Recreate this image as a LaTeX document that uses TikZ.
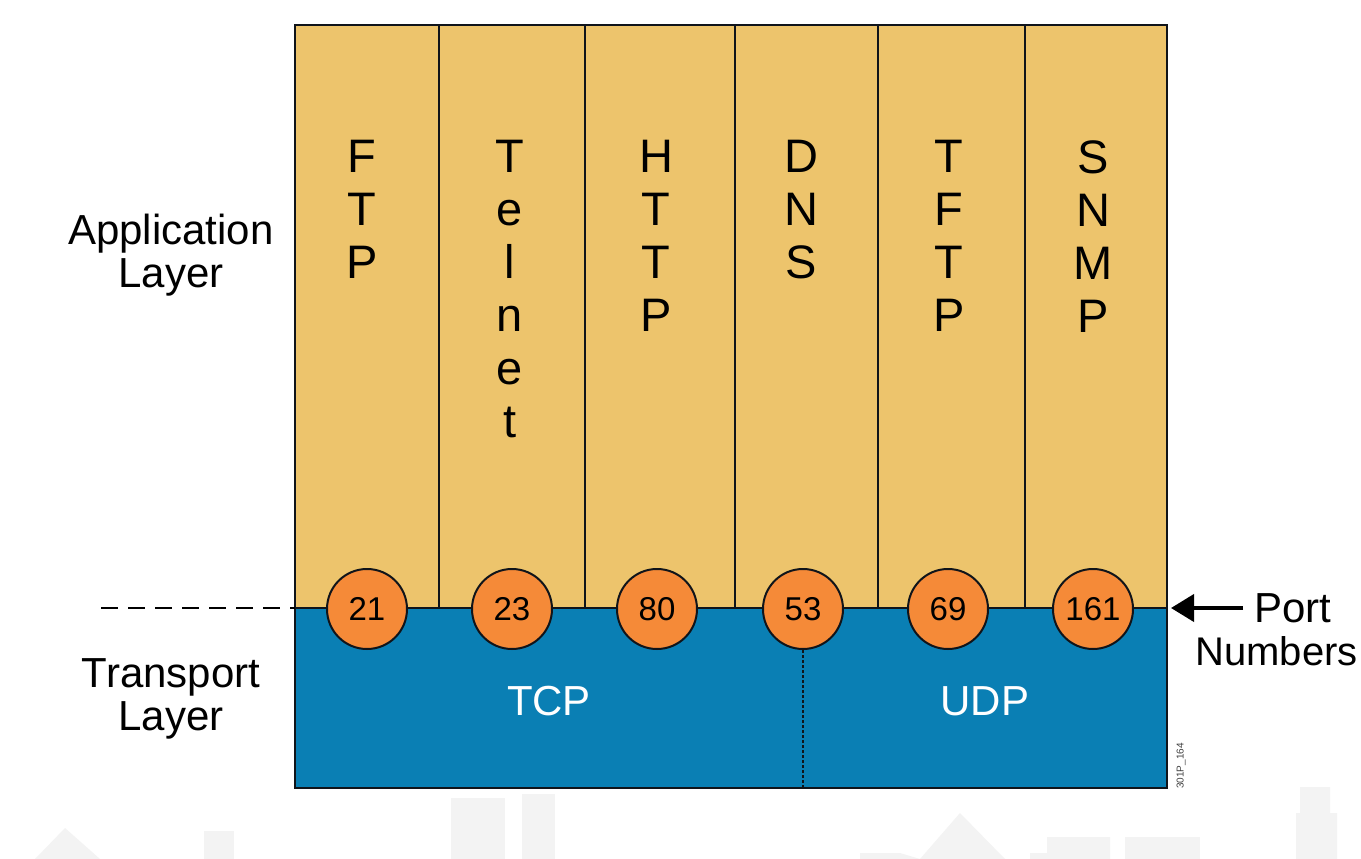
\documentclass[tikz,border=0pt]{standalone}
\usepackage{fontspec}
\setmainfont{Liberation Sans}
\usetikzlibrary{arrows.meta}
\definecolor{appyellow}{HTML}{EDC46C}
\definecolor{transblue}{HTML}{0A7FB4}
\definecolor{portorange}{HTML}{F58A38}
\definecolor{ghost}{HTML}{F3F3F3}
\definecolor{outline}{HTML}{10141A}
\tikzset{
  sidelabel/.style={font=\fontsize{42}{42.5}\selectfont,align=center,text=black,inner sep=0pt},
  proto/.style={font=\fontsize{47}{53}\selectfont,align=center,anchor=north,text=black,inner sep=0pt},
  port/.style={circle,draw=outline,line width=2pt,fill=portorange,minimum size=80pt,inner sep=0pt,font=\fontsize{33}{35}\selectfont},
  transp/.style={font=\fontsize{42}{43}\selectfont,text=white,inner sep=0pt},
  rule/.style={draw=outline,line width=2pt},
  ghostshape/.style={fill=ghost,draw=none}
}
\begin{document}
\begin{tikzpicture}[x=1pt,y=-1pt]
\useasboundingbox (0,0) rectangle (1361,859);
\fill[white] (0,0) rectangle (1361,859);
% faint background silhouettes
\fill[ghostshape] (35,859) -- (65,828) -- (100,859) -- cycle;
\fill[ghostshape] (204,859) -- (204,831) -- (234,831) -- (234,859) -- cycle;
\fill[ghostshape] (451,859) -- (451,798) -- (505,798) -- (505,859) -- cycle;
\fill[ghostshape] (522,859) -- (522,794) -- (555,794) -- (555,859) -- cycle;
\fill[ghostshape] (860,859) -- (860,853) -- (900,853) -- (920,859) -- cycle;
\fill[ghostshape] (920,859) -- (960,813) -- (1005,859) -- cycle;
\fill[ghostshape] (1030,859) -- (1030,853) -- (1047,853) -- (1047,837) -- (1110,837) -- (1110,859) -- cycle;
\fill[ghostshape] (1125,859) -- (1125,837) -- (1200,837) -- (1200,859) -- cycle;
\fill[ghostshape] (1296,859) -- (1296,813) -- (1300,813) -- (1300,787) -- (1330,787) -- (1330,813) -- (1337,813) -- (1337,859) -- cycle;
% layers
\fill[appyellow] (295,25) rectangle (1167,608);
\fill[transblue] (295,608) rectangle (1167,788);
\coordinate (dashstart) at (101,608);
\coordinate (boxleft) at (295,608);
\coordinate (boxright) at (1167,608);
\coordinate (arrowstart) at (1243,608);
\coordinate (arrowend) at (1171,608);
\coordinate (divbottom) at (803,787);
\foreach \x in {439,585,735,878,1025} \draw[rule] (\x,25) -- (\x,608);
\draw[rule] (boxleft) -- (boxright);
\draw[rule,line width=2.4pt] (295,25) rectangle (1167,788);
\draw[line width=2.5pt,dash pattern=on 17pt off 10pt,draw=black] (dashstart) -- (boxleft);
% protocols
\node[proto] (ftp) at (362,140) {F\\T\\P};
\node[proto] (telnet) at (510,140) {T\\e\\l\\n\\e\\t};
\node[proto] (http) at (656,140) {H\\T\\T\\P};
\node[proto] (dns) at (801,140) {D\\N\\S};
\node[proto] (tftp) at (949,140) {T\\F\\T\\P};
\node[proto] (snmp) at (1093,140) {S\\N\\M\\P};
% ports
\node[port] (p21) at (367,609) {21};
\node[port] (p23) at (512,609) {23};
\node[port] (p80) at (657,609) {80};
\node[port] (p53) at (803,609) {53};
\node[port] (p69) at (948,609) {69};
\node[port] (p161) at (1093,609) {161};
\draw[draw=outline,line width=2.6pt,dash pattern=on 2.5pt off 2.5pt] (p53.south) -- (divbottom);
% transport labels
\node[transp] (tcp) at (549,701) {TCP};
\node[transp] (udp) at (985,701) {UDP};
% side labels
\node[sidelabel] (app) at (171,255) {Application\\Layer};
\node[sidelabel] (trans) at (171,699) {Transport\\Layer};
\node[sidelabel,anchor=base] (portlbl) at (1293,622) {Port};
\node[sidelabel,anchor=base east,font=\fontsize{40}{43}\selectfont] (numlbl) at (1358,665) {Numbers};
\draw[line width=4pt,draw=black,-{Triangle[length=23pt,width=27pt]}] (arrowstart) -- (arrowend);
\node[rotate=90,font=\fontsize{10}{11}\selectfont,text=black!75,anchor=west,inner sep=0pt] (code) at (1181,789) {301P\_164};
\end{tikzpicture}
\end{document}
